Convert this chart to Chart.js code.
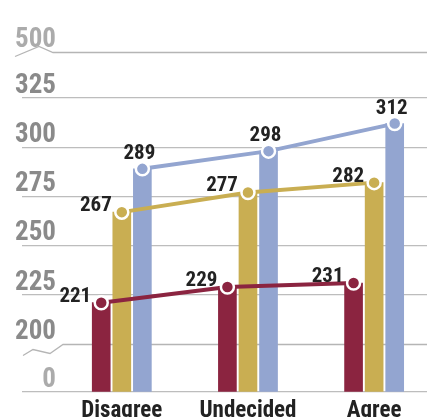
<!DOCTYPE html>
<html>
<head>
<meta charset="utf-8">
<script src="https://cdn.jsdelivr.net/npm/chart.js@4"></script>
<style>
html,body{margin:0;padding:0;background:#fff;}
#wrap{width:436px;height:417px;position:relative;}
</style>
</head>
<body>
<div id="wrap"><canvas id="c" width="436" height="417"></canvas></div>
<script>
// ---- data ----
const categories = ['Disagree', 'Undecided', 'Agree'];
const seriesMaroon = [221, 229, 231];
const seriesGold = [267, 277, 282];
const seriesBlue = [289, 298, 312];
const yTickValues = [0, 200, 225, 250, 275, 300, 325, 500];
const breakValues = [200, 500];

// ---- broken-axis transform (value -> axis position) ----
const LOW = 0.9756;          // position of 200
const HIGH_SPAN = 0.935;     // span of 325..500
function f(v) {
  if (v <= 200) return v / 200 * LOW;
  if (v <= 325) return LOW + (v - 200) / 25;
  return LOW + 5 + (v - 325) / 175 * HIGH_SPAN;
}

const FONT = '"Roboto Condensed", "Liberation Sans Narrow", sans-serif';
const COLORS = {maroon: '#8b2440', gold: '#c9ae52', blue: '#93a5d0'};
const OFF = 0.163;

function barSet(vals, off, color) {
  return {type: 'bar', data: vals.map((v, i) => ({x: i + off, y: f(v)})), backgroundColor: color,
    barThickness: 18, grouped: false, order: 2, borderWidth: 0};
}
function lineSet(vals, off, color, pos) {
  return {type: 'line', data: vals.map((v, i) => ({x: i + off, y: f(v), v: v})), borderColor: color,
    backgroundColor: color, borderWidth: 4, pointRadius: 6.5, pointBorderWidth: 2.5,
    pointBorderColor: '#fff', pointBackgroundColor: color, order: 1, labelPos: pos, clip: false};
}

const breakPlugin = {
  id: 'breaks',
  beforeDatasetsDraw(chart) {
    const ctx = chart.ctx, y = chart.scales.y, area = chart.chartArea;
    const shapes = {
      200: [[23, 11], [33, 5], [50, 9], [63, 0]],
      500: [[15, 4], [39, -6], [53, 0]]
    };
    ctx.save();
    ctx.strokeStyle = '#b5b5b5';
    ctx.lineWidth = 1.3;
    breakValues.forEach(v => {
      const py = Math.round(y.getPixelForValue(f(v))) + 0.5;
      const pts = shapes[v];
      ctx.beginPath();
      ctx.moveTo(pts[0][0], py + pts[0][1]);
      for (let i = 1; i < pts.length; i++) ctx.lineTo(pts[i][0], py + pts[i][1]);
      ctx.lineTo(area.right, py);
      ctx.stroke();
    });
    ctx.restore();
  }
};

const labelPlugin = {
  id: 'vlabels',
  afterDatasetsDraw(chart) {
    const ctx = chart.ctx;
    ctx.save();
    ctx.font = 'bold 21px ' + FONT;
    ctx.fillStyle = '#222';
    ctx.textBaseline = 'alphabetic';
    chart.data.datasets.forEach((ds, di) => {
      if (ds.type !== 'line') return;
      const meta = chart.getDatasetMeta(di);
      meta.data.forEach((pt, i) => {
        const txt = String(ds.data[i].v);
        if (ds.labelPos === 'above') {
          ctx.textAlign = 'center';
          ctx.fillText(txt, pt.x - 3, pt.y - 10);
        } else {
          ctx.textAlign = 'right';
          ctx.fillText(txt, pt.x - 10, pt.y - 1);
        }
      });
    });
    ctx.restore();
  }
};

new Chart(document.getElementById('c'), {
  data: {
    datasets: [
      barSet(seriesMaroon, -OFF, COLORS.maroon),
      barSet(seriesGold, 0, COLORS.gold),
      barSet(seriesBlue, OFF, COLORS.blue),
      lineSet(seriesMaroon, -OFF, COLORS.maroon, 'left'),
      lineSet(seriesGold, 0, COLORS.gold, 'left'),
      lineSet(seriesBlue, OFF, COLORS.blue, 'above')
    ]
  },
  options: {
    responsive: false,
    animation: false,
    devicePixelRatio: 1,
    layout: {padding: {left: 22, right: 0, top: 52, bottom: 0}},
    plugins: {legend: {display: false}, tooltip: {enabled: false}},
    scales: {
      x: {
        type: 'linear', min: -0.791, max: 2.419, offset: false,
        grid: {display: false}, border: {display: false},
        afterBuildTicks(scale) { scale.ticks = categories.map((c, i) => ({value: i})); },
        afterFit(scale) { scale.height = 25; },
        ticks: {
          callback: (v) => categories[v],
          font: {family: FONT, size: 23, weight: 'bold'},
          color: '#222', padding: -3, maxRotation: 0, autoSkip: false
        }
      },
      y: {
        type: 'linear', min: 0, max: f(500),
        border: {display: false},
        afterBuildTicks(scale) { scale.ticks = yTickValues.map(v => ({value: f(v)})); },
        afterFit(scale) { scale.width = 0; },
        grid: {
          drawTicks: false, lineWidth: 1.3,
          color: (c) => breakValues.includes(yTickValues[c.index]) ? 'rgba(0,0,0,0)' : '#bdbdbd'
        },
        ticks: {
          mirror: true, crossAlign: 'far', padding: -7, labelOffset: -12,
          callback: (v, i) => String(yTickValues[i]),
          font: {family: FONT, size: 27, weight: 'bold'},
          color: (c) => (c.index === 0 || c.index === yTickValues.length - 1) ? '#ababab' : '#8a8a8a'
        }
      }
    }
  },
  plugins: [breakPlugin, labelPlugin]
});
</script>
</body>
</html>
